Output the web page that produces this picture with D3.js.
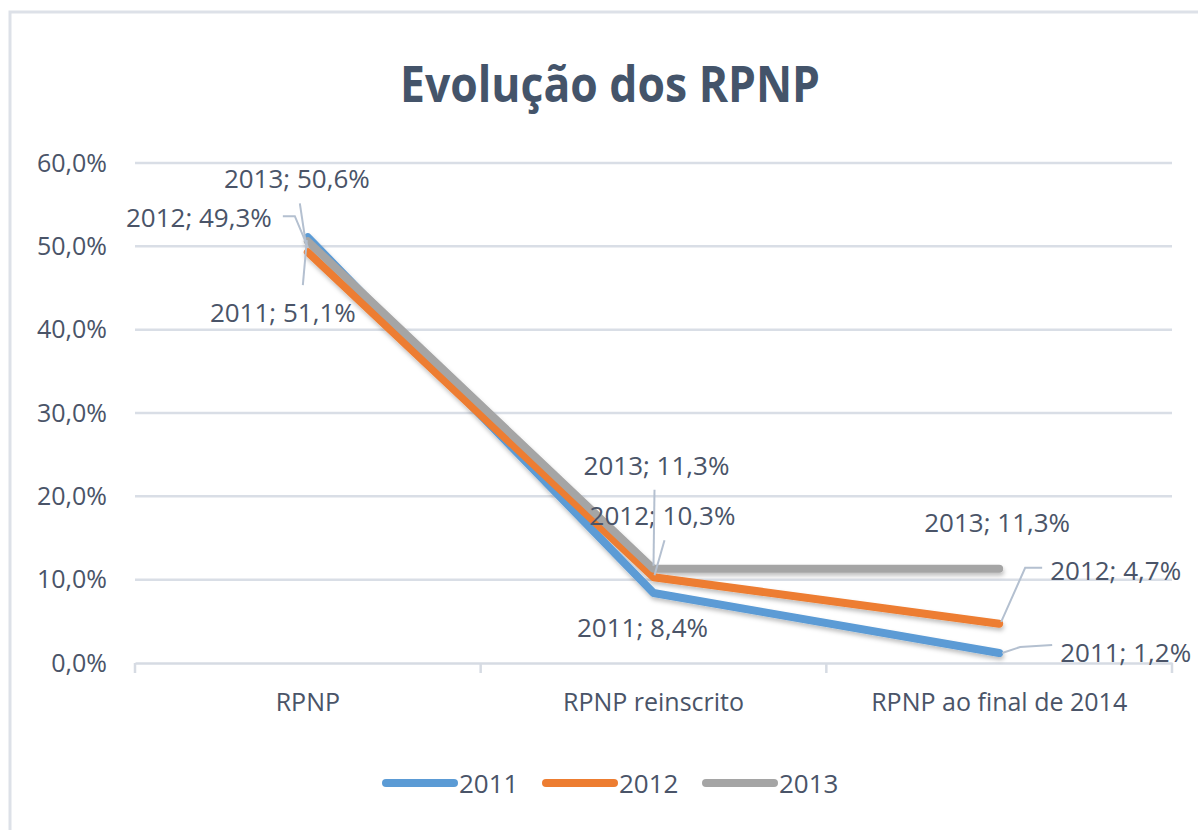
<!DOCTYPE html>
<html><head><meta charset="utf-8">
<script src="https://cdn.jsdelivr.net/npm/d3@7/dist/d3.min.js"></script>
<style>body{margin:0;background:#fff}svg{display:block}</style>
</head><body>
<svg id="c" width="1198" height="830"></svg>
<script>
const categories = ["RPNP", "RPNP reinscrito", "RPNP ao final de 2014"];
const seriesNames = ["2011", "2012", "2013"];
const values2011 = [51.1, 8.4, 1.2];
const values2012 = [49.3, 10.3, 4.7];
const values2013 = [50.6, 11.3, 11.3];
const yTicks = [0, 10, 20, 30, 40, 50, 60];
const colors = ["#5B9BD5", "#ED7D31", "#A5A5A5"];
const title = "Evolução dos RPNP";

const series = [
  {name: seriesNames[0], values: values2011, color: colors[0]},
  {name: seriesNames[1], values: values2012, color: colors[1]},
  {name: seriesNames[2], values: values2013, color: colors[2]}
];

// label layout offsets (relative to point): [seriesIdx][catIdx]
const labelLayout = [
  [{dx:-25,dy:75,anchor:"middle", leader:[[-5,48],[-1,3]]},
   {dx:-11,dy:34,anchor:"middle"},
   {dx:61,dy:-1,anchor:"start", leader:[[3,0],[21,-6],[53,-8]]}],
  [{dx:-36,dy:-35,anchor:"end", leader:[[-25,-36],[-13,-36],[0,-5]]},
   {dx:9,dy:-62,anchor:"middle", leader:[[11,-37],[1,-2]]},
   {dx:51,dy:-54,anchor:"start", leader:[[2,-2],[26,-56],[43,-56]]}],
  [{dx:-11,dy:-63,anchor:"middle", leader:[[-8,-38],[-2,2]]},
   {dx:3,dy:-104,anchor:"middle", leader:[[1,-79],[0,-3]]},
   {dx:-2,dy:-47,anchor:"middle"}]
];

const font = "'Open Sans', 'DejaVu Sans', sans-serif";
const textColor = "#4a5468";
const svg = d3.select("#c");

// outer border
svg.append("rect").attr("x",10).attr("y",12).attr("width",1400).attr("height",1000)
  .attr("fill","#fff").attr("stroke","#dde1e8").attr("stroke-width",3);

const defs = svg.append("defs");
const f = defs.append("filter").attr("id","sh").attr("x","-10%").attr("y","-10%").attr("width","120%").attr("height","130%");
f.append("feDropShadow").attr("dx",1).attr("dy",3).attr("stdDeviation",2).attr("flood-color","#000").attr("flood-opacity",0.25);

svg.append("text").attr("x",610).attr("y",82).attr("text-anchor","middle")
  .attr("dominant-baseline","central").attr("font-family",font).attr("font-weight",700)
  .attr("font-size",51).attr("textLength",420).attr("lengthAdjust","spacingAndGlyphs")
  .attr("fill","#44546A").text(title);

const x = d3.scaleBand().domain(categories).range([135,1172]);
const y = d3.scaleLinear().domain([0,60]).range([663,163]);

// gridlines
svg.append("g").selectAll("line").data(yTicks.filter(d=>d>0)).join("line")
  .attr("x1",135).attr("x2",1172).attr("y1",d=>y(d)).attr("y2",d=>y(d))
  .attr("stroke","#d9dee6").attr("stroke-width",2.5);

// y axis labels
const yAxis = d3.axisLeft(y).tickValues(yTicks).tickSize(0).tickPadding(0)
  .tickFormat(d=>d3.format(".1f")(d).replace(".",",")+"%");
const ya = svg.append("g").attr("transform","translate(107,0)").call(yAxis);
ya.select(".domain").remove();
ya.selectAll("text").attr("font-family",font).attr("font-size",25).attr("fill",textColor);

// x axis
const xAxis = d3.axisBottom(x).tickSize(0).tickPadding(30);
const xa = svg.append("g").attr("transform","translate(0,663)").call(xAxis);
xa.select(".domain").attr("stroke","#d6dbe3").attr("stroke-width",2.5);
xa.selectAll("text").attr("font-family",font).attr("font-size",25).attr("fill",textColor);
const bounds = categories.map(c=>x(c)).concat([x.range()[1]]);
svg.append("g").selectAll("line").data(bounds).join("line")
  .attr("x1",d=>d).attr("x2",d=>d).attr("y1",663).attr("y2",673)
  .attr("stroke","#d6dbe3").attr("stroke-width",2.5);

const cx = c => x(c) + x.bandwidth()/2;
const line = d3.line().x((d,i)=>cx(categories[i])).y(d=>y(d));

const lg = svg.append("g").attr("filter","url(#sh)");
series.forEach(s=>{
  lg.append("path").attr("d",line(s.values)).attr("fill","none")
    .attr("stroke",s.color).attr("stroke-width",8).attr("stroke-linecap","round").attr("stroke-linejoin","round");
});

// data labels + leaders
const labG = svg.append("g");
series.forEach((s,si)=>{
  s.values.forEach((v,ci)=>{
    const px = cx(categories[ci]), py = y(v);
    const L = labelLayout[si][ci];
    if (L.leader) {
      labG.append("path").attr("d", d3.line()(L.leader.map(p=>[px+p[0],py+p[1]])))
        .attr("fill","none").attr("stroke","#b4c0d0").attr("stroke-width",2);
    }
    labG.append("text").attr("x",px+L.dx).attr("y",py+L.dy)
      .attr("text-anchor",L.anchor).attr("dominant-baseline","central")
      .attr("font-family",font).attr("font-size",26).attr("fill",textColor)
      .text(s.name+"; "+v.toFixed(1).replace(".",",")+"%");
  });
});

// legend
const legX = [386, 546, 706];
const leg = svg.append("g");
series.forEach((s,i)=>{
  leg.append("line").attr("x1",legX[i]).attr("x2",legX[i]+68).attr("y1",783).attr("y2",783)
    .attr("stroke",s.color).attr("stroke-width",8).attr("stroke-linecap","round");
  leg.append("text").attr("x",legX[i]+73).attr("y",783).attr("dominant-baseline","central")
    .attr("font-family",font).attr("font-size",26).attr("fill",textColor).text(s.name);
});
</script>
</body></html>
